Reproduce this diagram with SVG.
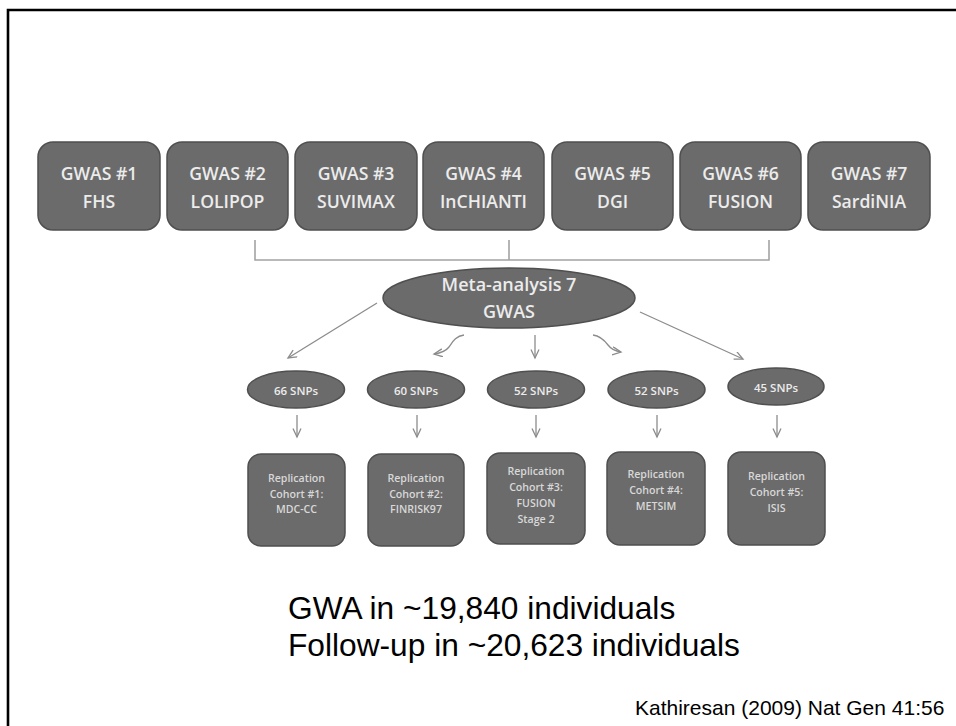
<svg xmlns="http://www.w3.org/2000/svg" width="956" height="726" viewBox="0 0 956 726">
<style>
.box{fill:#6b6b6b;stroke:#4f4f4f;stroke-width:1.5}
.t{font-family:"Open Sans","Liberation Sans",sans-serif;fill:#ececec;text-anchor:middle;font-weight:600}
.tb{font-size:17.6px}
.tm{font-size:18px}
.ts{font-size:11.5px}
.tr{font-size:10.6px;fill:#d8d8d8}
.ln{fill:none;stroke:#8c8c8c;stroke-width:1.3}
.br{fill:none;stroke:#a3a3a3;stroke-width:1.6}
.big{font-family:"Liberation Sans",Arial,sans-serif;fill:#000}
</style>
<defs>
<marker id="ah" markerWidth="11" markerHeight="11" refX="9" refY="4.5" orient="auto" markerUnits="userSpaceOnUse">
<path d="M0.5,0.5 L9,4.5 L0.5,8.5" fill="none" stroke="#8c8c8c" stroke-width="1.3"/>
</marker>
</defs>
<rect x="0" y="0" width="956" height="726" fill="#fff"/>
<path d="M8,726 V10 H956" fill="none" stroke="#000" stroke-width="2.6"/>

<g id="connectors">
<path class="br" d="M255,240 V260 H769 V240 M509,240 V260"/>
<line class="ln" x1="377" y1="303" x2="288" y2="358" marker-end="url(#ah)"/>
<path class="ln" d="M464,335 C455,336 452,343 449,347 S441,353 434,354" marker-end="url(#ah)"/>
<line class="ln" x1="535" y1="335" x2="535" y2="358" marker-end="url(#ah)"/>
<path class="ln" d="M593,335 C601,336 605,341 608,345 S614,351 621,352" marker-end="url(#ah)"/>
<line class="ln" x1="640" y1="312" x2="743" y2="359" marker-end="url(#ah)"/>
<line class="ln" x1="297" y1="415" x2="297" y2="437" marker-end="url(#ah)"/>
<line class="ln" x1="417" y1="415" x2="417" y2="437" marker-end="url(#ah)"/>
<line class="ln" x1="536" y1="415" x2="536" y2="437" marker-end="url(#ah)"/>
<line class="ln" x1="657" y1="415" x2="657" y2="437" marker-end="url(#ah)"/>
<line class="ln" x1="777" y1="415" x2="777" y2="437" marker-end="url(#ah)"/>
</g>

<g id="gwas1"><rect class="box" x="38" y="142" width="122" height="88" rx="15"/><text class="t tb" x="99" y="180">GWAS #1</text><text class="t tb" x="99" y="208">FHS</text></g>
<g id="gwas2"><rect class="box" x="167" y="142" width="121" height="88" rx="15"/><text class="t tb" x="227.5" y="180">GWAS #2</text><text class="t tb" x="227.5" y="208">LOLIPOP</text></g>
<g id="gwas3"><rect class="box" x="295" y="142" width="122" height="88" rx="15"/><text class="t tb" x="356" y="180">GWAS #3</text><text class="t tb" x="356" y="208">SUVIMAX</text></g>
<g id="gwas4"><rect class="box" x="423" y="142" width="121" height="88" rx="15"/><text class="t tb" x="483.5" y="180">GWAS #4</text><text class="t tb" x="483.5" y="208">InCHIANTI</text></g>
<g id="gwas5"><rect class="box" x="552" y="142" width="121" height="88" rx="15"/><text class="t tb" x="612.5" y="180">GWAS #5</text><text class="t tb" x="612.5" y="208">DGI</text></g>
<g id="gwas6"><rect class="box" x="680" y="142" width="121" height="88" rx="15"/><text class="t tb" x="740.5" y="180">GWAS #6</text><text class="t tb" x="740.5" y="208">FUSION</text></g>
<g id="gwas7"><rect class="box" x="808" y="142" width="122" height="88" rx="15"/><text class="t tb" x="869" y="180">GWAS #7</text><text class="t tb" x="869" y="208">SardiNIA</text></g>

<g id="meta"><ellipse class="box" cx="509" cy="298" rx="126" ry="30"/><text class="t tm" x="509" y="291">Meta-analysis 7</text><text class="t tm" x="509" y="318">GWAS</text></g>

<g id="snp1"><ellipse class="box" cx="296" cy="389.5" rx="48.5" ry="18.5"/><text class="t ts" x="296" y="394.5">66 SNPs</text></g>
<g id="snp2"><ellipse class="box" cx="416" cy="389.5" rx="48.5" ry="18.5"/><text class="t ts" x="416" y="394.5">60 SNPs</text></g>
<g id="snp3"><ellipse class="box" cx="536" cy="389.5" rx="48.5" ry="18.5"/><text class="t ts" x="536" y="394.5">52 SNPs</text></g>
<g id="snp4"><ellipse class="box" cx="656.5" cy="389.5" rx="48.5" ry="18.5"/><text class="t ts" x="656.5" y="394.5">52 SNPs</text></g>
<g id="snp5"><ellipse class="box" cx="776" cy="386.5" rx="48" ry="18.5"/><text class="t ts" x="776" y="391.5">45 SNPs</text></g>

<g id="rep1"><rect class="box" x="248" y="454" width="97" height="92" rx="13"/><text class="t tr" x="296.5" y="482">Replication</text><text class="t tr" x="296.5" y="497.5">Cohort #1:</text><text class="t tr" x="296.5" y="513">MDC-CC</text></g>
<g id="rep2"><rect class="box" x="368" y="454" width="96" height="92" rx="13"/><text class="t tr" x="416" y="482">Replication</text><text class="t tr" x="416" y="497.5">Cohort #2:</text><text class="t tr" x="416" y="513">FINRISK97</text></g>
<g id="rep3"><rect class="box" x="487" y="453" width="98" height="91" rx="13"/><text class="t tr" x="536" y="475">Replication</text><text class="t tr" x="536" y="490.5">Cohort #3:</text><text class="t tr" x="536" y="507">FUSION</text><text class="t tr" x="536" y="523">Stage 2</text></g>
<g id="rep4"><rect class="box" x="607" y="452" width="98" height="93" rx="13"/><text class="t tr" x="656" y="478">Replication</text><text class="t tr" x="656" y="493.5">Cohort #4:</text><text class="t tr" x="656" y="510">METSIM</text></g>
<g id="rep5"><rect class="box" x="728" y="452" width="97" height="93" rx="13"/><text class="t tr" x="776.5" y="480">Replication</text><text class="t tr" x="776.5" y="495.5">Cohort #5:</text><text class="t tr" x="776.5" y="512">ISIS</text></g>

<text class="big" x="288" y="619" font-size="31.7">GWA in ~19,840 individuals</text>
<text class="big" x="288" y="656" font-size="31.7">Follow-up in ~20,623 individuals</text>
<text class="big" x="635" y="715" font-size="21">Kathiresan (2009) Nat Gen 41:56</text>
</svg>
